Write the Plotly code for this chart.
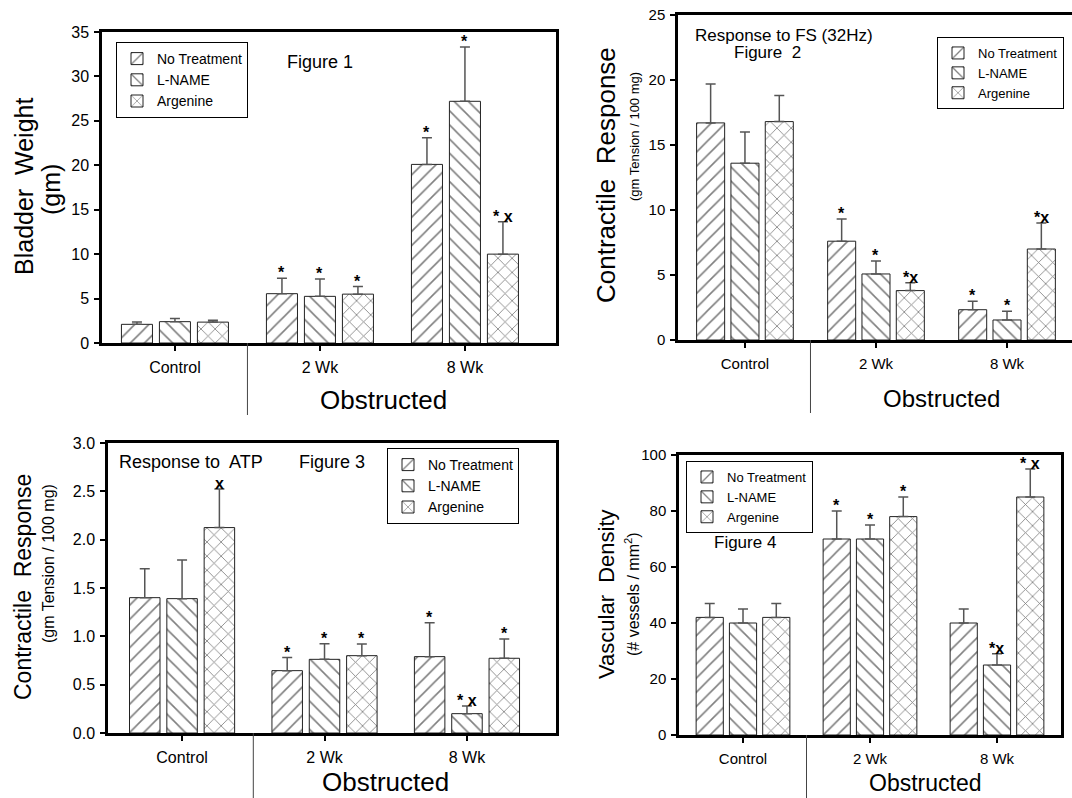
import plotly.graph_objects as go

W, H = 1072, 798
FONT = "Arial, 'Liberation Sans', sans-serif"

groups = ["Control", "2 Wk", "8 Wk"]
series = ["No Treatment", "L-NAME", "Argenine"]
patterns = ["/", "\\", "x"]

# ---- Figure 1: Bladder weight (gm)
f1_nt = [2.1, 5.55, 20.1]
f1_ln = [2.4, 5.25, 27.2]
f1_ar = [2.35, 5.5, 10.0]
f1_nt_err = [0.25, 1.75, 3.0]
f1_ln_err = [0.35, 1.95, 6.1]
f1_ar_err = [0.2, 0.85, 3.65]
f1_nt_sig = ["", "*", "*"]
f1_ln_sig = ["", "*", "*"]
f1_ar_sig = ["", "*", "* x"]

# ---- Figure 2: Response to FS (32Hz)
f2_nt = [16.7, 7.6, 2.33]
f2_ln = [13.6, 5.08, 1.54]
f2_ar = [16.8, 3.8, 7.0]
f2_nt_err = [3.0, 1.7, 0.65]
f2_ln_err = [2.4, 1.0, 0.67]
f2_ar_err = [2.0, 0.6, 2.0]
f2_nt_sig = ["", "*", "*"]
f2_ln_sig = ["", "*", "*"]
f2_ar_sig = ["", "*x", "*x"]

# ---- Figure 3: Response to ATP
f3_nt = [1.40, 0.645, 0.79]
f3_ln = [1.39, 0.762, 0.20]
f3_ar = [2.125, 0.80, 0.773]
f3_nt_err = [0.30, 0.135, 0.35]
f3_ln_err = [0.40, 0.16, 0.08]
f3_ar_err = [0.40, 0.12, 0.20]
f3_nt_sig = ["", "*", "*"]
f3_ln_sig = ["", "*", "* x"]
f3_ar_sig = ["x", "*", "*"]

# ---- Figure 4: Vascular density
f4_nt = [42, 70, 40]
f4_ln = [40, 70, 25]
f4_ar = [42, 78, 85]
f4_nt_err = [5, 10, 5]
f4_ln_err = [5, 5, 4]
f4_ar_err = [5, 7, 10]
f4_nt_sig = ["", "*", ""]
f4_ln_sig = ["", "*", "*x"]
f4_ar_sig = ["", "*", "* x"]

BARGAP = 0.214
BARGROUPGAP = 0.183
SLOT = (1 - BARGAP) / 3


def px(x):
    return x / W


def py(y):
    return 1 - y / H


panels = [
    dict(vals=[f1_nt, f1_ln, f1_ar], errs=[f1_nt_err, f1_ln_err, f1_ar_err],
         sigs=[f1_nt_sig, f1_ln_sig, f1_ar_sig],
         xdom=[px(102), px(556)], ydom=[py(343), py(32)],
         xr=[-0.503, 2.628], yr=[0, 35], dtick=5, fmt="", tick=16, mirror_y=True,
         legend=dict(x=px(116), y=py(42), size=14)),
    dict(vals=[f2_nt, f2_ln, f2_ar], errs=[f2_nt_err, f2_ln_err, f2_ar_err],
         sigs=[f2_nt_sig, f2_ln_sig, f2_ar_sig],
         xdom=[px(678), 1.0], ydom=[py(340), py(15)],
         xr=[-0.511, 2.496], yr=[0, 25], dtick=5, fmt="", tick=15, mirror_y=False,
         legend=dict(x=px(937), y=py(37), size=13)),
    dict(vals=[f3_nt, f3_ln, f3_ar], errs=[f3_nt_err, f3_ln_err, f3_ar_err],
         sigs=[f3_nt_sig, f3_ln_sig, f3_ar_sig],
         xdom=[px(108), px(556)], ydom=[py(733), py(443)],
         xr=[-0.52, 2.625], yr=[0, 3.0], dtick=0.5, fmt=".1f", tick=16, mirror_y=True,
         legend=dict(x=px(387), y=py(448), size=14)),
    dict(vals=[f4_nt, f4_ln, f4_ar], errs=[f4_nt_err, f4_ln_err, f4_ar_err],
         sigs=[f4_nt_sig, f4_ln_sig, f4_ar_sig],
         xdom=[px(679), px(1061)], ydom=[py(735), py(455)],
         xr=[-0.504, 2.504], yr=[0, 100], dtick=20, fmt="", tick=15, mirror_y=True,
         legend=dict(x=px(686), y=py(461), size=13)),
]

fig = go.Figure()
annotations = []
layout = {}

for p_i, p in enumerate(panels):
    n = p_i + 1
    xa = "x" if n == 1 else f"x{n}"
    ya = "y" if n == 1 else f"y{n}"
    lg = "legend" if n == 1 else f"legend{n}"
    for s_i in range(3):
        fig.add_trace(go.Bar(
            x=list(range(len(groups))), y=p["vals"][s_i], name=series[s_i],
            xaxis=xa, yaxis=ya, legend=lg, offsetgroup=str(s_i),
            marker=dict(color="white",
                        line=dict(color="#222", width=1),
                        pattern=dict(shape=patterns[s_i], fgcolor="black",
                                     bgcolor="white", size=10, solidity=0.16)),
            error_y=dict(type="data", symmetric=False, array=p["errs"][s_i],
                         arrayminus=[0] * len(groups), color="#555",
                         thickness=1.5, width=5),
        ))
        for g_i in range(len(groups)):
            txt = p["sigs"][s_i][g_i]
            if not txt:
                continue
            annotations.append(dict(
                x=g_i + (s_i - 1) * SLOT, y=p["vals"][s_i][g_i] + p["errs"][s_i][g_i],
                xref=xa, yref=ya, text="<b>" + txt + "</b>", showarrow=False,
                yanchor="bottom", xanchor="center", yshift=-5,
                font=dict(size=16, family=FONT, color="black")))
    axis_common = dict(showline=True, linecolor="black", linewidth=2.5,
                       ticks="outside", ticklen=5, tickwidth=1.5, tickcolor="black",
                       showgrid=False, zeroline=False, automargin=False)
    layout["xaxis" if n == 1 else f"xaxis{n}"] = dict(
        domain=p["xdom"], anchor=ya, range=p["xr"], tickmode="array",
        tickvals=list(range(len(groups))), ticktext=groups, mirror=True,
        ticklabelstandoff=3, tickfont=dict(size=p["tick"], family=FONT, color="black"),
        **axis_common)
    layout["yaxis" if n == 1 else f"yaxis{n}"] = dict(
        domain=p["ydom"], anchor=xa, range=p["yr"], dtick=p["dtick"], tick0=0,
        tickformat=p["fmt"], mirror=p["mirror_y"], ticklabelstandoff=2,
        tickfont=dict(size=p["tick"], family=FONT, color="black"), **axis_common)
    L = p["legend"]
    layout[lg] = dict(x=L["x"], y=L["y"], xanchor="left", yanchor="top",
                      bordercolor="black", borderwidth=1, bgcolor="white",
                      font=dict(size=L["size"], family=FONT, color="black"),
                      tracegroupgap=0, itemwidth=30, itemclick=False)

# divider lines between Control and obstructed groups
shapes = []
div_specs = [("x", 343, 415), ("x2", 340, 413), ("x3", 733, 798), ("x4", 735, 798)]
for xa, y0, y1 in div_specs:
    shapes.append(dict(type="line", xref=xa, yref="paper", x0=0.5, x1=0.5,
                       y0=py(y0), y1=py(y1), line=dict(color="#444", width=1)))


def text(x, y, t, size, angle=0, xanchor="center"):
    annotations.append(dict(x=px(x), y=py(y), xref="paper", yref="paper", text=t,
                            showarrow=False, textangle=angle, xanchor=xanchor,
                            yanchor="middle", font=dict(size=size, family=FONT, color="black")))


NB = "\u00a0"
# axis titles
text(24, 187, "Bladder" + NB + " Weight", 25, -90)
text(51, 190, "(gm)", 25, -90)
text(606, 175, "Contractile" + NB + " Response", 26, -90)
text(635, 137, "(gm Tension / 100 mg)", 13, -90)
text(23, 587, "Contractile" + NB + " Response", 23, -90)
text(48, 564, "(gm Tension / 100 mg)", 16, -90)
text(606, 594, "Vascular" + NB + " Density", 22, -90)
text(632, 594, "(# vessels / mm<sup>2</sup>)", 16, -90)

# group titles
text(383, 400, "Obstructed", 26)
text(941, 398, "Obstructed", 24)
text(385, 782, "Obstructed", 26)
text(925, 783, "Obstructed", 23)

# figure labels
text(285, 62, "Figure 1", 18, xanchor="left")
text(693, 35, "Response to FS (32Hz)", 17, xanchor="left")
text(767, 53, "Figure" + NB + " 2", 17)
text(117, 462, "Response to" + NB + " ATP", 18, xanchor="left")
text(297, 462, "Figure 3", 18, xanchor="left")
text(712, 542, "Figure 4", 17, xanchor="left")

fig.update_layout(
    width=W, height=H, margin=dict(l=0, r=0, t=0, b=0, pad=0, autoexpand=False),
    paper_bgcolor="white", plot_bgcolor="white",
    barmode="group", bargap=BARGAP, bargroupgap=BARGROUPGAP,
    font=dict(family=FONT, color="black"),
    annotations=annotations, shapes=shapes, showlegend=True,
    **layout,
)

fig.write_html("out.html", config={"displayModeBar": False},
               post_script="document.body.style.margin='0px';"
                           "document.body.style.overflow='hidden';")
